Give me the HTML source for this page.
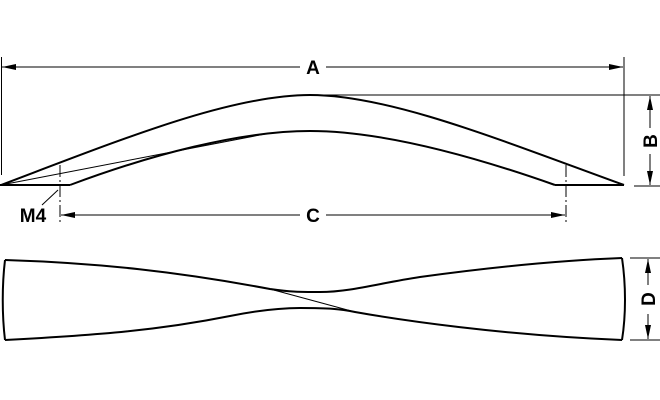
<!DOCTYPE html>
<html><head><meta charset="utf-8"><style>
html,body{margin:0;padding:0;background:#fff;}
svg{display:block;}
text{font-family:"Liberation Sans",Arial,sans-serif;font-weight:bold;font-size:19px;fill:#000;}
</style></head><body>
<svg width="660" height="400" viewBox="0 0 660 400" xmlns="http://www.w3.org/2000/svg">
<defs>
<marker id="ar" markerWidth="14" markerHeight="6" refX="14" refY="3" orient="auto" markerUnits="userSpaceOnUse">
<path d="M0,0 L14,3 L0,6 z" fill="#000"/></marker>
</defs>
<g stroke="#000" fill="none">
<line x1="1.5" y1="57" x2="1.5" y2="175" stroke-width="1"/>
<line x1="624" y1="57" x2="624" y2="176" stroke-width="1"/>
<line x1="300" y1="67" x2="2" y2="67" stroke-width="1" marker-end="url(#ar)"/>
<line x1="326" y1="67" x2="623" y2="67" stroke-width="1" marker-end="url(#ar)"/>
<path d="M1,185 C120,140 230,95 310,95 C390,95 500,140 624,185" stroke-width="2"/>
<path d="M70,185 C150,155 240,131 310,131 C380,131 470,155 555,185" stroke-width="2"/>
<line x1="0" y1="185" x2="70" y2="185" stroke-width="2"/>
<line x1="555" y1="185" x2="624" y2="185" stroke-width="2"/>
<line x1="1" y1="185" x2="265" y2="134" stroke-width="1"/>
<line x1="312" y1="95" x2="660" y2="95" stroke-width="1"/>
<line x1="634" y1="186" x2="660" y2="186" stroke-width="1"/>
<line x1="650" y1="128" x2="650" y2="96" stroke-width="1" marker-end="url(#ar)"/>
<line x1="650" y1="154" x2="650" y2="185" stroke-width="1" marker-end="url(#ar)"/>
<line x1="60" y1="165" x2="60" y2="225" stroke-width="1" stroke-dasharray="12,3,2,3"/>
<line x1="566" y1="165" x2="566" y2="225" stroke-width="1" stroke-dasharray="12,3,2,3"/>
<line x1="42" y1="205" x2="58" y2="190" stroke-width="1"/>
<line x1="300" y1="215" x2="61" y2="215" stroke-width="1" marker-end="url(#ar)"/>
<line x1="326" y1="215" x2="565" y2="215" stroke-width="1" marker-end="url(#ar)"/>
<path d="M5,260 C2,285 2,315 5,340" stroke-width="2"/>
<path d="M622,258 C626,285 626,315 622,340" stroke-width="2"/>
<path d="M5,260 C100,263 180,272 270,289 C290,292 300,292 320,292 C350,292 380,283 420,277 C500,266 570,260 622,258" stroke-width="2"/>
<path d="M5,340 C100,335 160,330 230,316 C260,310 280,308 300,308 C330,308 340,309 355,312 C400,320 500,335 622,340" stroke-width="2"/>
<line x1="270" y1="289" x2="355" y2="312" stroke-width="1"/>
<line x1="630" y1="258" x2="660" y2="258" stroke-width="1"/>
<line x1="630" y1="340" x2="660" y2="340" stroke-width="1"/>
<line x1="648" y1="285" x2="648" y2="259" stroke-width="1" marker-end="url(#ar)"/>
<line x1="648" y1="314" x2="648" y2="339" stroke-width="1" marker-end="url(#ar)"/>
</g>
<text x="313" y="74" text-anchor="middle">A</text>
<text x="313" y="222" text-anchor="middle">C</text>
<text x="33" y="222" text-anchor="middle">M4</text>
<text transform="translate(657,141) rotate(-90)" text-anchor="middle">B</text>
<text transform="translate(655,299) rotate(-90)" text-anchor="middle">D</text>
</svg>
</body></html>
